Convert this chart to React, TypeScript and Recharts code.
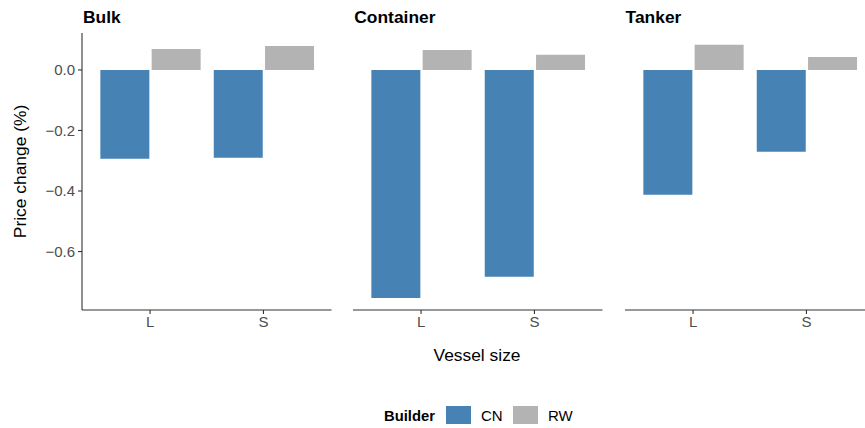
import React from "react";
import { BarChart, Bar, XAxis, YAxis } from "recharts";

const facets = ["Bulk", "Container", "Tanker"];
const sizes = ["L", "S"];
const cnBulk = [-0.293, -0.29];
const rwBulk = [0.069, 0.079];
const cnContainer = [-0.753, -0.683];
const rwContainer = [0.066, 0.05];
const cnTanker = [-0.412, -0.27];
const rwTanker = [0.083, 0.043];
const yTicks = [-0.6, -0.4, -0.2, 0];
const builders = ["CN", "RW"];

const COLORS: Record<string, string> = { CN: "#4682B4", RW: "#B3B3B3" };
const FONT = '"Liberation Sans", Arial, Helvetica, sans-serif';
const Y_DOMAIN: [number, number] = [-0.793, 0.122];
const PANEL_W = 249.5;
const PANEL_LEFTS = [82, 353.3, 624.6];
const PLOT_TOP = 33;
const PLOT_BOTTOM = 310;
const H = 428;
const XAXIS_H = 30;

const build = (cn: number[], rw: number[]) =>
  sizes.map((s, i) => ({ size: s, CN: cn[i], RW: rw[i] }));

const facetData = [
  build(cnBulk, rwBulk),
  build(cnContainer, rwContainer),
  build(cnTanker, rwTanker),
];

const fmt = (v: number) =>
  v === 0 ? "0.0" : (v < 0 ? "\u2212" : "") + Math.abs(v).toFixed(1);

const tickStyle = { fontSize: 15, fill: "#4D4D4D", fontFamily: FONT };
const lineColor = "#333333";

function Panel({ idx }: { idx: number }) {
  const first = idx === 0;
  const yw = first ? PANEL_LEFTS[0] : 0;
  const left = PANEL_LEFTS[idx] - yw;
  return (
    <div style={{ position: "absolute", left, top: 0 }}>
      <BarChart
        width={PANEL_W + yw}
        height={H}
        data={facetData[idx]}
        margin={{ top: PLOT_TOP, right: 0, left: 0, bottom: H - PLOT_BOTTOM - XAXIS_H }}
        barCategoryGap={7}
        barGap={2.3}
      >
        <XAxis
          dataKey="size"
          type="category"
          padding={{ left: 11.35, right: 11.35 }}
          height={XAXIS_H}
          tick={tickStyle}
          tickSize={4}
          tickMargin={2}
          axisLine={{ stroke: lineColor, strokeWidth: 1.1 }}
          tickLine={{ stroke: lineColor, strokeWidth: 1.1 }}
        />
        <YAxis
          type="number"
          domain={Y_DOMAIN}
          ticks={yTicks}
          allowDataOverflow
          hide={!first}
          width={yw}
          tickFormatter={fmt}
          tick={tickStyle}
          tickSize={4}
          tickMargin={3}
          axisLine={{ stroke: lineColor, strokeWidth: 1.1 }}
          tickLine={{ stroke: lineColor, strokeWidth: 1.1 }}
        />
        {builders.map((b) => (
          <Bar key={b} dataKey={b} fill={COLORS[b]} isAnimationActive={false} />
        ))}
      </BarChart>
    </div>
  );
}

export default function App() {
  const legendItems = [
    { name: builders[0], keyX: 446, textX: 481 },
    { name: builders[1], keyX: 513, textX: 548 },
  ];
  return (
    <div
      style={{
        position: "fixed",
        left: 0,
        top: 0,
        width: 865,
        height: H,
        overflow: "hidden",
        background: "#fff",
        fontFamily: FONT,
      }}
    >
      {facets.map((f, i) => (
        <Panel key={f} idx={i} />
      ))}
      <svg
        width={865}
        height={H}
        style={{ position: "absolute", left: 0, top: 0, pointerEvents: "none" }}
        fontFamily={FONT}
      >
        {facets.map((f, i) => (
          <text key={f} x={PANEL_LEFTS[i] + 1} y={23.3} fontSize={17.4} fontWeight="bold" fill="#000">
            {f}
          </text>
        ))}
        <text
          x={20}
          y={(PLOT_TOP + PLOT_BOTTOM) / 2}
          transform={`rotate(-90 20 ${(PLOT_TOP + PLOT_BOTTOM) / 2})`}
          textAnchor="middle"
          dominantBaseline="central"
          fontSize={17.4}
          fill="#000"
        >
          Price change (%)
        </text>
        <text x={477} y={361} textAnchor="middle" fontSize={17.4} fill="#000">
          Vessel size
        </text>
        <text x={384} y={421} fontSize={14.8} fontWeight="bold" fill="#000">
          Builder
        </text>
        {legendItems.map((it) => (
          <g key={it.name}>
            <rect x={it.keyX} y={406} width={25} height={18} fill={COLORS[it.name]} />
            <text x={it.textX} y={421} fontSize={15} fill="#000">
              {it.name}
            </text>
          </g>
        ))}
      </svg>
    </div>
  );
}
